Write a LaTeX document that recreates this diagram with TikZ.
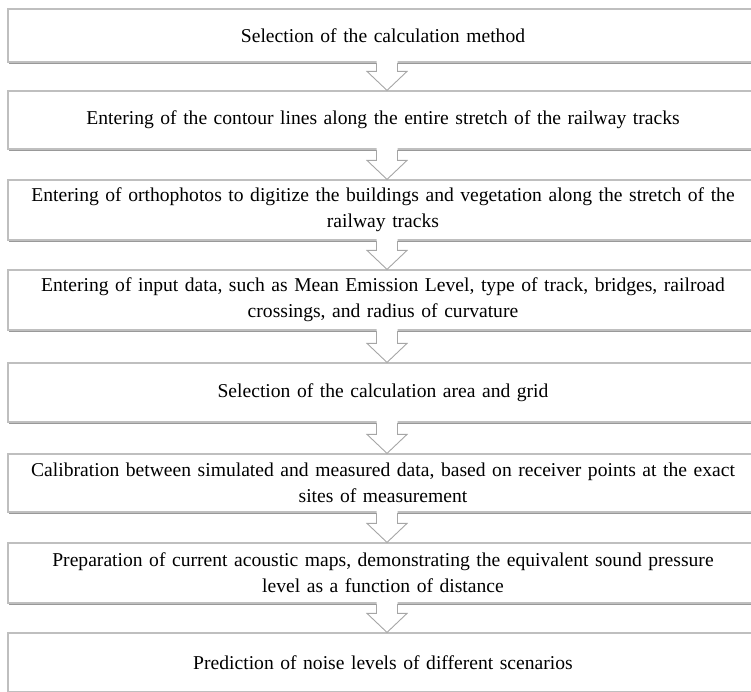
\documentclass[tikz,border=0pt]{standalone}
\usepackage{fontspec}
\setmainfont{Liberation Serif}
\usetikzlibrary{calc,shadows}
\definecolor{Borde}{HTML}{BFBFBF}
\definecolor{BordeFlecha}{HTML}{A6A6A6}
\definecolor{Sombra}{HTML}{7F7F7F}

\begin{document}
\begin{tikzpicture}[x=1pt,y=-1pt,
    paso/.style={draw=Borde,line width=1.2pt,fill=white,minimum width=750pt,text width=744pt,inner xsep=3pt,inner ysep=2pt,align=center,
      font=\fontsize{19.6}{26}\selectfont,
      drop shadow={shadow xshift=1.2pt,shadow yshift=-2.4pt,fill=Sombra,opacity=0.8}},
    flecha/.style={draw=BordeFlecha,line width=0.9pt,line join=miter}]
  \useasboundingbox (0,0) rectangle (751,691);
        \node[paso,minimum height=53pt] (sel) at (383,35.5) {Selection of the calculation method};
        \node[paso,minimum height=58pt] (cont) at (383,120) {Entering of the contour lines along the entire stretch of the railway tracks};
        \node[paso,minimum height=60pt] (orto) at (383,210) {Entering of orthophotos to digitize the buildings and vegetation along the stretch of the\\railway tracks};
        \node[paso,minimum height=60pt] (datos) at (383,300) {Entering of input data, such as Mean Emission Level, type of track, bridges, railroad\\crossings, and radius of curvature};
        \node[paso,minimum height=59pt] (area) at (383,392.5) {Selection of the calculation area and grid};
        \node[paso,minimum height=58pt] (calib) at (383,483) {Calibration between simulated and measured data, based on receiver points at the exact\\sites of measurement};
        \node[paso,minimum height=60pt] (mapas) at (383,573) {Preparation of current acoustic maps, demonstrating the equivalent sound pressure\\level as a function of distance};
        \node[paso,minimum height=59pt] (pred) at (383,662.5) {Prediction of noise levels of different scenarios};
        % flechas huecas entre pasos
        \foreach \a/\b in {sel/cont,cont/orto,orto/datos,datos/area,area/calib,calib/mapas,mapas/pred}{
          \fill[white] ($(\a.south)+(-6.5,-2.5)$) -- ($(\b.north)+(-6.5,-19)$) -- ($(\b.north)+(-16,-19)$) -- ($(\b.north)+(4,0)$)
            -- ($(\b.north)+(24,-19)$) -- ($(\b.north)+(14.5,-19)$) -- ($(\a.south)+(14.5,-2.5)$) -- cycle;
          \draw[flecha] ($(\a.south)+(-6.5,0.6)$) -- ($(\b.north)+(-6.5,-19)$) -- ($(\b.north)+(-16,-19)$) -- ($(\b.north)+(4,0)$)
            -- ($(\b.north)+(24,-19)$) -- ($(\b.north)+(14.5,-19)$) -- ($(\a.south)+(14.5,0.6)$);
        }
      \end{tikzpicture}
\end{document}
